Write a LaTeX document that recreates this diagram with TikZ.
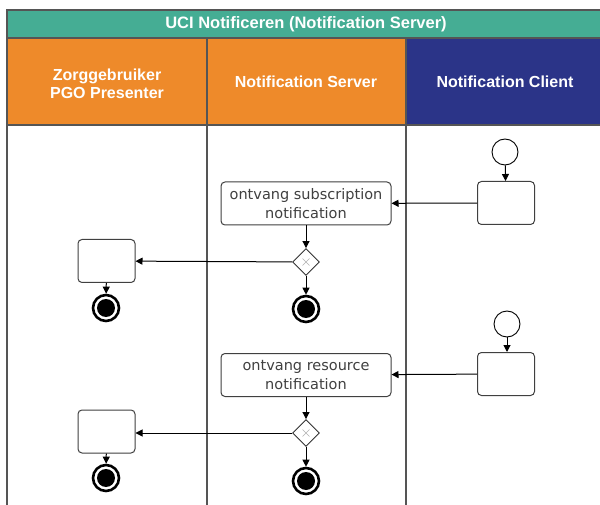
\documentclass[tikz,border=0pt]{standalone}
\usepackage{fontspec}
\setmainfont{DejaVu Sans}
\newfontfamily\headfont{Liberation Sans}
\usetikzlibrary{shapes.geometric,arrows.meta}
\definecolor{teal1}{HTML}{45AD94}
\definecolor{orange1}{HTML}{EE8A2A}
\definecolor{navy1}{HTML}{2B3488}
\definecolor{frame1}{HTML}{555555}
\tikzset{
  lane/.style={draw=frame1,line width=1.3pt},
  task/.style={draw=black!75,line width=1pt,rounded corners=4pt,fill=white,inner sep=1pt,align=center,font=\fontsize{14.5}{19}\selectfont,text=black!75},
  stask/.style={task,minimum width=170pt,minimum height=43pt},
  etask/.style={task,minimum width=57pt,minimum height=43pt},
  startev/.style={circle,draw=black,line width=0.9pt,fill=white,minimum size=26pt,inner sep=0pt},
  endev/.style={circle,draw=black,line width=2.6pt,fill=white,minimum size=26pt,inner sep=0pt,
     path picture={\fill[black] (path picture bounding box.center) circle (9pt);}},
  gate/.style={diamond,draw=black!80,line width=0.9pt,fill=white,minimum width=27pt,minimum height=27pt,inner sep=0pt,
     path picture={\draw[black!30,line width=0.6pt] ([shift={(-3.5pt,-3.5pt)}]path picture bounding box.center) -- ([shift={(3.5pt,3.5pt)}]path picture bounding box.center)
       ([shift={(-3.5pt,3.5pt)}]path picture bounding box.center) -- ([shift={(3.5pt,-3.5pt)}]path picture bounding box.center);}},
  flow/.style={draw=black,line width=1pt,-{Triangle[length=7pt,width=7pt]}},
  hdr/.style={text=white,font=\headfont\bfseries\fontsize{16}{18}\selectfont,align=center}
}
\begin{document}
\begin{tikzpicture}[x=1pt,y=-1pt]
\useasboundingbox (0,0) rectangle (600,505);
\fill[white] (0,0) rectangle (600,505);
% header bands
\fill[teal1] (7,10) rectangle (602,38);
\fill[orange1] (7,38) rectangle (406,125);
\fill[navy1] (406,38) rectangle (602,125);
\node[hdr,font=\headfont\bfseries\fontsize{16.5}{18}\selectfont] (title) at (306,24) {UCI Notificeren (Notification Server)};
\node[hdr] (h1) at (107,84) {Zorggebruiker\\PGO Presenter};
\node[hdr] (h2) at (306,82) {Notification Server};
\node[hdr] (h3) at (505,82) {Notification Client};
% frame lines
\draw[lane] (602,10) -- (7,10) -- (7,506);
\draw[lane] (7,38) -- (602,38);
\draw[lane] (7,125) -- (602,125);
\draw[lane] (207,38) -- (207,506);
\draw[lane] (406,38) -- (406,506);
% first flow
\node[startev] (s1) at (505,152) {};
\node[etask] (c1) at (506,203) {};
\node[stask] (t1) at (306,203.5) {ontvang subscription\\notification};
\node[gate] (g1) at (306,262) {};
\node[etask] (p1) at (106.5,261) {};
\node[endev] (pe1) at (106,308) {};
\node[endev] (se1) at (306,309) {};
\draw[flow] (s1) -- (c1);
\draw[flow] (c1) -- (t1);
\draw[flow] (t1) -- (g1);
\draw[flow] (g1) -- (p1);
\draw[flow] (p1) -- (pe1);
\draw[flow] (g1) -- (se1);
% second flow
\node[startev] (s2) at (507,324) {};
\node[etask] (c2) at (506,374) {};
\node[stask] (t2) at (306,375) {ontvang resource\\notification};
\node[gate] (g2) at (306,433) {};
\node[etask] (p2) at (106.5,431.5) {};
\node[endev] (pe2) at (106,478) {};
\node[endev] (se2) at (306,481) {};
\draw[flow] (s2) -- (c2.north -| s2);
\draw[flow] (c2) -- (t2);
\draw[flow] (t2) -- (g2);
\draw[flow] (g2) -- (g2 -| p2.east);
\draw[flow] (p2) -- (pe2);
\draw[flow] (g2) -- (se2);
\end{tikzpicture}
\end{document}
